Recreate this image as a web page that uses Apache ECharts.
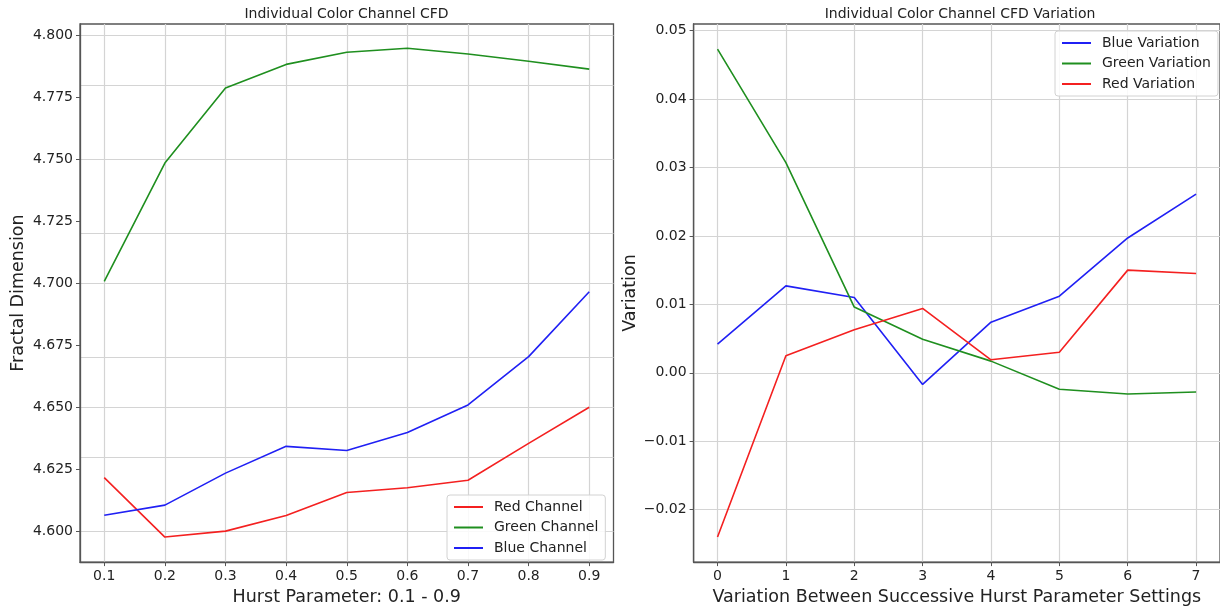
<!DOCTYPE html>
<html>
<head>
<meta charset="utf-8">
<title>Individual Color Channel CFD</title>
<script src="https://cdn.jsdelivr.net/npm/echarts@6/dist/echarts.min.js"></script>
<style>
    html, body { margin: 0; padding: 0; background: #fff; }
    #chart { width: 1220px; height: 611px; }
</style>
</head>
<body>
<div id="chart"></div>
<script>
// left panel: CFD per channel vs hurst parameter
var hurstValues = [0.1, 0.2, 0.3, 0.4, 0.5, 0.6, 0.7, 0.8, 0.9];
var redChannel = [4.6216, 4.5976, 4.6000, 4.6063, 4.6156, 4.6175, 4.6205, 4.6354, 4.6500];
var greenChannel = [4.7008, 4.7485, 4.7788, 4.7883, 4.7932, 4.7948, 4.7925, 4.7896, 4.7864];
var blueChannel = [4.6064, 4.6105, 4.6234, 4.6342, 4.6325, 4.6398, 4.6509, 4.6704, 4.6966];
var leftYTicks = [4.600, 4.625, 4.650, 4.675, 4.700, 4.725, 4.750, 4.775, 4.800];

// right panel: variation between successive settings
var stepIndex = [0, 1, 2, 3, 4, 5, 6, 7];
var blueVariation = [0.0042, 0.0127, 0.0110, -0.0017, 0.0074, 0.0112, 0.0197, 0.0261];
var greenVariation = [0.0473, 0.0307, 0.0096, 0.0049, 0.0017, -0.0024, -0.0031, -0.0028];
var redVariation = [-0.0240, 0.0025, 0.0063, 0.0094, 0.0019, 0.0030, 0.0150, 0.0145];
var rightYTicks = [-0.02, -0.01, 0.00, 0.01, 0.02, 0.03, 0.04, 0.05];

var FONT = 'DejaVu Sans';
var INK = '#222';
var SPINE = '#555';
var RED = '#f42020', GREEN = '#1f8f1f', BLUE = '#2020f4';

var zip = function (xs, ys) {
    return xs.map(function (x, i) { return [x, ys[i]]; });
};

var valueAxis = function (gridIndex, min, max, ticks, fmt, name, gap) {
    return {
        type: 'value',
        gridIndex: gridIndex,
        min: min,
        max: max,
        name: name,
        nameLocation: 'middle',
        nameGap: gap,
        nameTextStyle: { fontFamily: FONT, fontSize: 17.5, color: INK },
        axisLine: { show: true, onZero: false, lineStyle: { color: SPINE, width: 1.3 } },
        axisTick: { show: true, length: 4, customValues: ticks, lineStyle: { color: SPINE, width: 1 } },
        axisLabel: { margin: 7, customValues: ticks, formatter: fmt, fontFamily: FONT, fontSize: 14, color: INK },
        splitLine: { show: false }
    };
};

// grid lines drawn as mark lines on an empty helper series, kept under the data
var gridLines = function (idx, xTicks, yTicks) {
    var lines = xTicks.map(function (v) { return { xAxis: v }; })
        .concat(yTicks.map(function (v) { return { yAxis: v }; }));
    return {
        type: 'line',
        xAxisIndex: idx,
        yAxisIndex: idx,
        data: [],
        silent: true,
        z: 0,
        markLine: {
            z: 0,
            silent: true,
            animation: false,
            symbol: ['none', 'none'],
            label: { show: false },
            emphasis: { disabled: true },
            lineStyle: { color: '#d4d4d4', width: 1.2, type: 'solid' },
            data: lines
        }
    };
};

var lineSeries = function (idx, name, xs, ys, color) {
    return {
        type: 'line',
        name: name,
        xAxisIndex: idx,
        yAxisIndex: idx,
        data: zip(xs, ys),
        showSymbol: false,
        symbol: 'none',
        z: 6,
        color: color,
        lineStyle: { color: color, width: 1.6 }
    };
};

var legendBox = function (left, top, names) {
    return {
        orient: 'vertical',
        left: left,
        top: top,
        z: 10,
        data: names,
        icon: 'rect',
        itemWidth: 29,
        itemHeight: 2,
        itemGap: 4.5,
        padding: [4, 7, 4, 7],
        borderColor: '#d2d2d2',
        borderWidth: 1,
        borderRadius: 3,
        backgroundColor: 'rgba(255,255,255,0.85)',
        selectedMode: false,
        textStyle: { fontFamily: FONT, fontSize: 14, color: INK, lineHeight: 16, padding: [0, 0, 0, 6] }
    };
};

var negFmt = function (d) {
    return function (v) {
        return (v < 0 ? '\u2212' : '') + Math.abs(v).toFixed(d);
    };
};

var myChart = echarts.init(document.getElementById('chart'), null, { renderer: 'canvas' });

var option = {
    animation: false,
    backgroundColor: '#fff',
    graphic: [
        { type: 'text', style: { x: 346.5, y: 7, text: 'Individual Color Channel CFD', align: 'center', fontFamily: FONT, fontSize: 14, fill: INK } },
        { type: 'text', style: { x: 960, y: 7, text: 'Individual Color Channel CFD Variation', align: 'center', fontFamily: FONT, fontSize: 14, fill: INK } }
    ],
    grid: [
        { left: 80, right: 606.5, top: 24, bottom: 44, show: true, borderColor: SPINE, borderWidth: 1.3 },
        { left: 693.6, right: -6, top: 24, bottom: 44, show: true, borderColor: SPINE, borderWidth: 1.3 }
    ],
    xAxis: [
        valueAxis(0, 0.06, 0.94, hurstValues, function (v) { return v.toFixed(1); }, 'Hurst Parameter: 0.1 - 0.9', 20),
        valueAxis(1, -0.35, 7.35, stepIndex, function (v) { return String(v); }, 'Variation Between Successive Hurst Parameter Settings', 20)
    ],
    yAxis: [
        valueAxis(0, 4.5875, 4.8046, leftYTicks, function (v) { return v.toFixed(3); }, 'Fractal Dimension', 53),
        valueAxis(1, -0.02767, 0.05097, rightYTicks, negFmt(2), 'Variation', 52)
    ],
    legend: [
        legendBox(447, 495, ['Red Channel', 'Green Channel', 'Blue Channel']),
        legendBox(1055, 31, ['Blue Variation', 'Green Variation', 'Red Variation'])
    ],
    series: [
        gridLines(0, hurstValues, leftYTicks),
        gridLines(1, stepIndex, rightYTicks),
        lineSeries(0, 'Red Channel', hurstValues, redChannel, RED),
        lineSeries(0, 'Green Channel', hurstValues, greenChannel, GREEN),
        lineSeries(0, 'Blue Channel', hurstValues, blueChannel, BLUE),
        lineSeries(1, 'Blue Variation', stepIndex, blueVariation, BLUE),
        lineSeries(1, 'Green Variation', stepIndex, greenVariation, GREEN),
        lineSeries(1, 'Red Variation', stepIndex, redVariation, RED)
    ]
};

myChart.setOption(option);
</script>
</body>
</html>
